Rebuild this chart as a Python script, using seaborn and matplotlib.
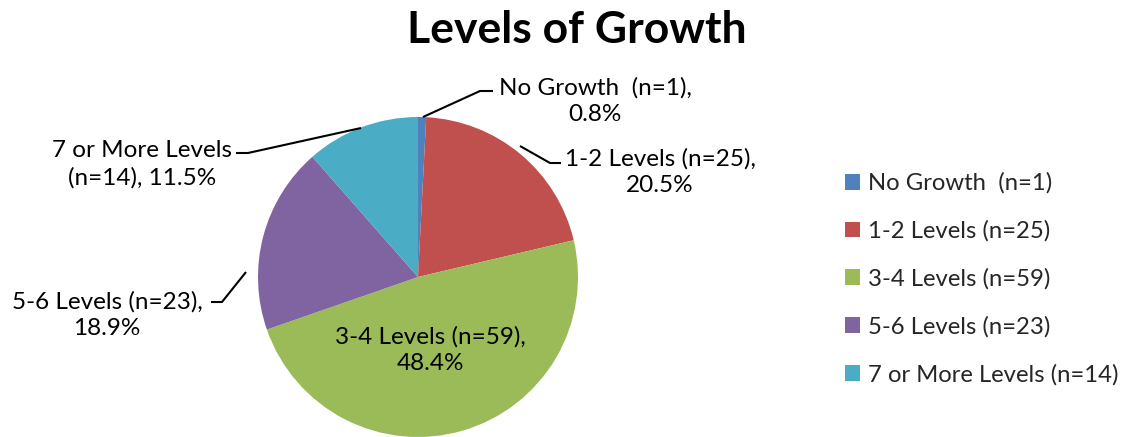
import matplotlib
matplotlib.use("Agg")
import matplotlib.pyplot as plt
import seaborn as sns
from matplotlib.patches import Patch

# data
categories = ["No Growth  (n=1)", "1-2 Levels (n=25)", "3-4 Levels (n=59)",
              "5-6 Levels (n=23)", "7 or More Levels (n=14)"]
counts = [1, 25, 59, 23, 14]
percent_labels = ["0.8%", "20.5%", "48.4%", "18.9%", "11.5%"]
colors = ["#4F81BD", "#C0504D", "#9BBB59", "#8064A2", "#4BACC6"]

sns.set_theme(style="white")
plt.rcParams["font.family"] = ["Lato", "DejaVu Sans"]

W, H = 1129, 437
fig = plt.figure(figsize=(W / 100, H / 100), dpi=100)

# pie axes: centre (418, 277) px, radius 160 px
cx, cy, r = 418, 277, 160
ax = fig.add_axes([(cx - r) / W, (H - cy - r) / H, 2 * r / W, 2 * r / H])
wedges, _ = ax.pie(counts, colors=colors, startangle=90, counterclock=False,
                   radius=1, wedgeprops=dict(linewidth=0))
ax.set_xlim(-1, 1)
ax.set_ylim(-1, 1)
ax.set_aspect("equal")
ax.axis("off")

def px(x, y):
    return ((x - cx) / r, (cy - y) / r)

# label text = category + percent, text centre (px), leader line points (px)
label_text = ["No Growth  (n=1),\n0.8%", "1-2 Levels (n=25),\n20.5%",
              "3-4 Levels (n=59),\n48.4%", "5-6 Levels (n=23),\n18.9%",
              "7 or More Levels\n(n=14), 11.5%"]
label_pos = [(595, 101), (660, 172), (430, 350), (107, 315), (142, 164)]
leaders = [
    [(423, 117), (480, 91), (493, 91)],
    [(520, 146), (550, 163), (561, 163)],
    None,
    [(246, 272), (222, 302), (211, 302)],
    [(361, 128), (248, 153), (236, 153)],
]

for txt, pos, lead in zip(label_text, label_pos, leaders):
    x, y = px(*pos)
    ax.text(x, y, txt, ha="center", va="center", fontsize=17.5,
            linespacing=1.37, color="black", clip_on=False)
    if lead:
        xs = [px(*p)[0] for p in lead]
        ys = [px(*p)[1] for p in lead]
        ax.plot(xs, ys, color="black", lw=1.5, clip_on=False,
                solid_capstyle="butt")

fig.text(577 / W, 1 - 30 / H, "Levels of Growth", ha="center", va="center",
         fontsize=32, fontweight="bold", color="black")

handles = [Patch(facecolor=c, edgecolor="none") for c in colors]
fig.legend(handles, categories, loc="upper left",
           bbox_to_anchor=(835 / W, 1 - 163 / H), frameon=False,
           fontsize=17.2, labelspacing=1.1, handlelength=0.65,
           handleheight=0.65, handletextpad=0.35, borderaxespad=0)

fig.savefig("out.png", dpi=100)
